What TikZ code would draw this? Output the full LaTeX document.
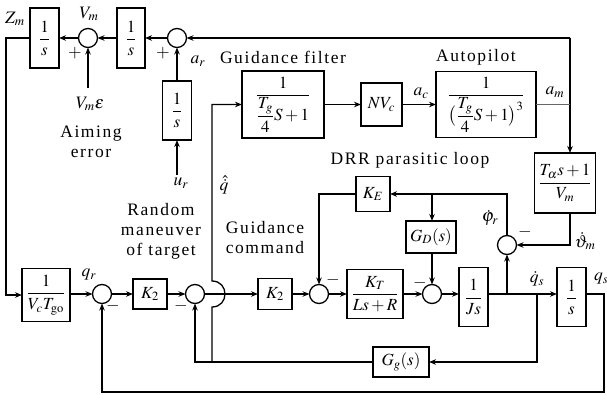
\documentclass[tikz,border=0pt]{standalone}
\usepackage{mathptmx}
\usepackage{amsmath}
\usepackage[no-math]{fontspec}
\setmainfont{Liberation Serif}
\newfontfamily\labfont[LetterSpace=9]{Liberation Serif}
\usetikzlibrary{arrows.meta,calc}

\begin{document}
\begin{tikzpicture}[x=1pt,y=-1pt,
  every node/.style={inner sep=0pt, outer sep=0pt},
  blk/.style={draw, line width=1.3pt, fill=white, font=\fontsize{17}{20}\selectfont},
  sumj/.style={draw, circle, line width=1.3pt, minimum size=19pt},
  wire/.style={line width=1.3pt},
  sig/.style={wire, -{Stealth[length=7pt,width=5.5pt]}},
  txt/.style={font=\labfont\fontsize{17.5}{21}\selectfont, align=center},
  mlab/.style={font=\fontsize{17.5}{20}\selectfont}
]
\useasboundingbox (0,0) rectangle (607,395);

% ---------- target kinematics (top left) ----------
\node[blk, minimum width=29pt, minimum height=60pt] (b1) at (44.5,38) {$\dfrac{1}{s}$};
\node[sumj] (c1) at (88,38) {};
\node[blk, minimum width=28pt, minimum height=60pt] (b2) at (131,38) {$\dfrac{1}{s}$};
\node[sumj] (c2) at (177,38) {};
\node[blk, minimum width=29pt, minimum height=59pt] (b3) at (177,110.5) {$\dfrac{1}{s}$};

% ---------- guidance filter and autopilot ----------
\node[blk, minimum width=82pt, minimum height=67pt] (filt) at (283,104.5) {$\dfrac{1}{\dfrac{T_g}{4}S+1}$};
\node[blk, minimum width=41pt, minimum height=43pt] (nv) at (381.5,104.5) {$NV_c$};
\node[blk, minimum width=100pt, minimum height=66pt] (ap) at (486,104.5) {$\dfrac{1}{\bigl(\dfrac{T_g}{4}S+1\bigr)^3}$};
\node[blk, minimum width=61pt, minimum height=60pt] (T) at (565,183) {$\dfrac{T_\alpha s+1}{V_m}$};

% ---------- main loop ----------
\node[blk, minimum width=48pt, minimum height=53pt] (vt) at (46,295) {$\dfrac{1}{V_c T_{\mathrm{go}}}$};
\node[sumj] (c3) at (102,294) {};
\node[blk, minimum width=34pt, minimum height=30pt] (k2a) at (150,294) {$K_2$};
\node[sumj] (c4) at (195,294) {};
\node[blk, minimum width=34pt, minimum height=31pt] (k2b) at (275,294) {$K_2$};
\node[sumj] (c5) at (319,294) {};
\node[blk, minimum width=56pt, minimum height=49pt] (kt) at (375,294) {$\dfrac{K_T}{Ls+R}$};
\node[sumj] (c6) at (432,294) {};
\node[blk, minimum width=29pt, minimum height=59pt] (js) at (473.5,297) {$\dfrac{1}{Js}$};
\node[blk, minimum width=29pt, minimum height=59pt] (s2) at (571.5,297) {$\dfrac{1}{s}$};

% ---------- DRR parasitic loop ----------
\node[blk, minimum width=34pt, minimum height=35pt] (ke) at (373,194) {$K_E$};
\node[blk, minimum width=50pt, minimum height=32pt] (gd) at (431,237) {$G_D(s)$};
\node[sumj] (c7) at (507,245) {};
\node[blk, minimum width=56pt, minimum height=30pt] (gg) at (401,362) {$G_g(s)$};

% ---------- branch points and free ends ----------
\coordinate (tap) at (570,38);
\coordinate (vme) at (88,88);
\coordinate (ur) at (177,175);
\coordinate (j1) at (507,294);
\coordinate (j2) at (432,194);
\coordinate (j3) at (537,294);
\coordinate (j4) at (212,362);
\coordinate (qs) at (604,294);
\coordinate (bl) at (102,392);

% ---------- connectors ----------
\draw[sig] (c1) -- (b1);
\draw[sig] (b2) -- (c1);
\draw[sig] (c2) -- (b2);
\draw[sig] (tap) -- (c2);
\draw[sig] (tap) -- (tap |- T.north);
\draw[gray!80!black, line width=0.9pt] (ap.east) -- (ap.east -| tap);
\draw[sig] (b3) -- (c2);
\draw[sig] (ur) -- (b3.south);
\draw[sig] (vme) -- (c1.south);
\draw[sig] (b1.west) -- ++(-24,0) |- (vt.west);

\draw[sig] (vt.east |- c3) -- (c3);
\draw[sig] (c3) -- (k2a);
\draw[sig] (k2a) -- (c4);
\draw[sig] (c4) -- (k2b);
\draw[sig] (k2b) -- (c5);
\draw[sig] (c5) -- (kt);
\draw[sig] (kt) -- (c6);
\draw[sig] (c6) -- (js.west |- c6);
\draw[sig] (js.east |- c6) -- (s2.west |- c6);
\draw[sig] (s2.east |- c6) -- (qs) |- (bl) -- (c3.south);

\draw[sig] (j1) -- (c7.south);
\draw[sig] (T.south -| tap) |- (c7.east);
\draw[sig] (c7.north) |- (ke.east);
\draw[sig] (j2) -- (gd.north -| j2);
\draw[sig] (gd.south -| c6) -- (c6.north);
\draw[sig] (ke.west) -| (c5.north);
\draw[sig] (j3) |- (gg.east);
\draw[sig] (gg.west) -| (c4.south);
\draw[sig] (j4) -- ($(j4 |- c4)+(0,13)$)
  .. controls ($(j4 |- c4)+(17.3,13)$) and ($(j4 |- c4)+(17.3,-13)$) .. ($(j4 |- c4)+(0,-13)$)
  |- (filt.west);
\draw[sig] (filt) -- (nv);
\draw[sig] (nv) -- (ap);

% ---------- signal labels ----------
\node[mlab] (lzm) at (15,19) {$Z_m$};
\node[mlab] (lvm) at (89,14) {$V_m$};
\node[mlab] (lp1) at (75,53) {$+$};
\node[mlab] (lp2) at (163,53) {$+$};
\node[mlab] (lar) at (198,61) {$a_r$};
\node[mlab] (lve) at (90,104) {$V_m\varepsilon$};
\node[mlab] (lur) at (181,183) {$u_r$};
\node[mlab] (lac) at (421,93) {$a_c$};
\node[mlab] (lam) at (555,92) {$a_m$};
\node[mlab] (lqh) at (224,185) {$\hat{\dot{q}}$};
\node[mlab] (lphi) at (490,218) {$\dot{\varphi}_r$};
\node[mlab] (lm7) at (525,232) {$-$};
\node[mlab] (lth) at (585,241) {$\dot{\vartheta}_m$};
\node[mlab] (lqr) at (89,275) {$q_r$};
\node[mlab] (lm3) at (113,306) {$-$};
\node[mlab] (lm4) at (181,306) {$-$};
\node[mlab] (lm5) at (333,280) {$-$};
\node[mlab] (lm6) at (420,283) {$-$};
\node[mlab] (lqd) at (537,279) {$\dot{q}_s$};
\node[mlab, anchor=west] (lqs) at (594,279) {$q_s$};

% ---------- block captions ----------
\node[txt] (taim) at (91,142) {Aiming\\[-1pt]error};
\node[txt] (trnd) at (161,231) {Random\\[-1pt]maneuver\\[-1pt]of target};
\node[txt] (tgf) at (283,57) {Guidance filter};
\node[txt] (tap2) at (476,57) {Autopilot};
\node[txt] (tdrr) at (410,160) {DRR parasitic loop};
\node[txt] (tgc) at (265,238) {Guidance\\[-1pt]command};
\end{tikzpicture}
\end{document}
